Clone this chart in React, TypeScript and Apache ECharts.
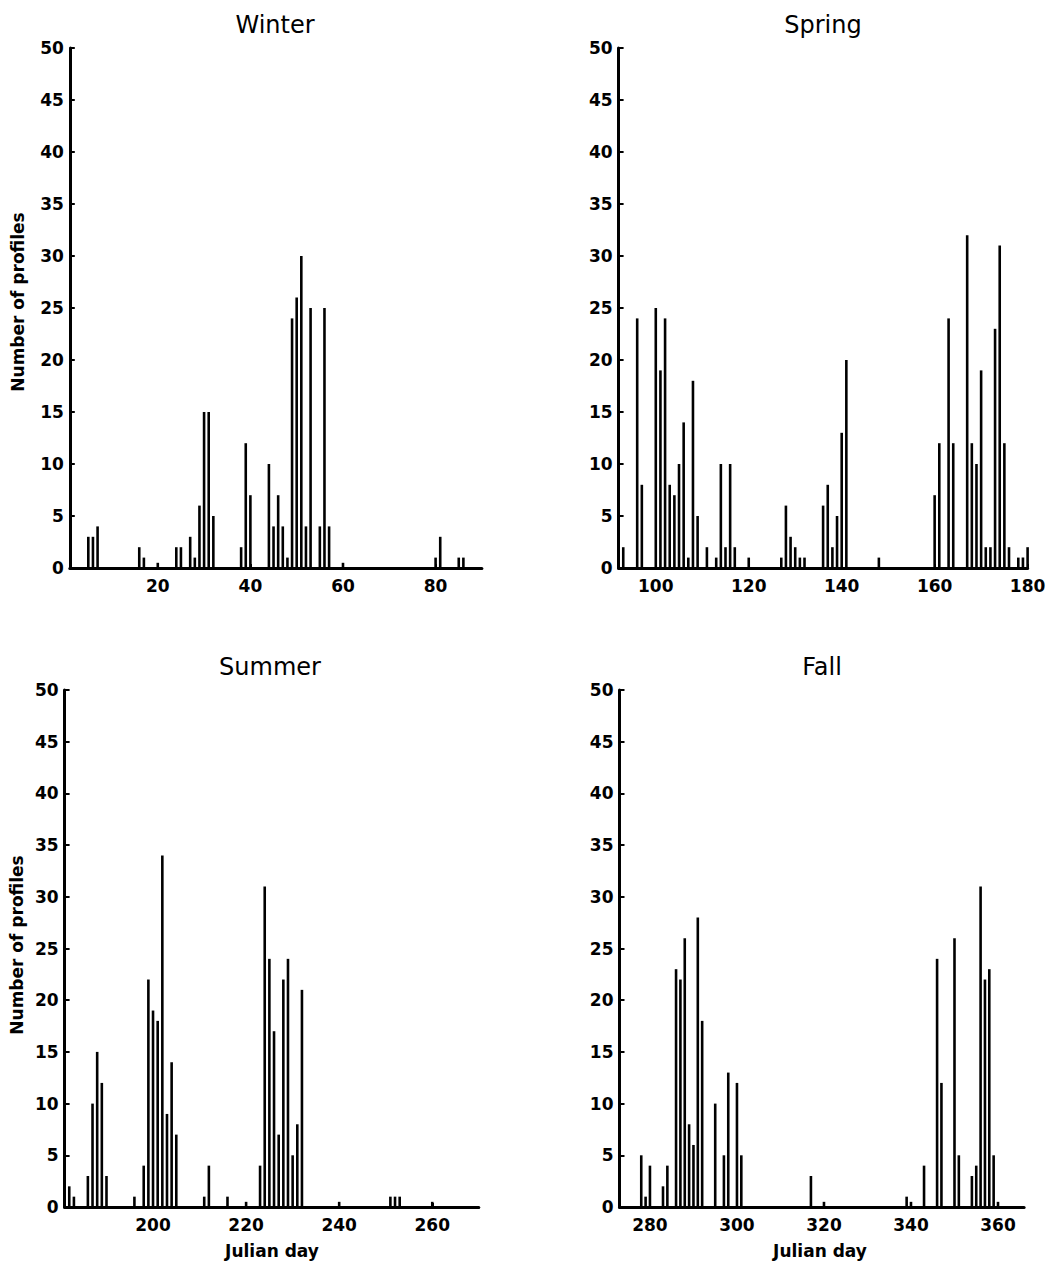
import React, { useEffect, useRef } from "react";
import * as echarts from "echarts";

// ---- data (Julian day, number of profiles) ----
const winterDays = [5, 6, 7, 16, 17, 20, 24, 25, 27, 28, 29, 30, 31, 32, 38, 39, 40, 44, 45, 46, 47, 48, 49, 50, 51, 52, 53, 55, 56, 57, 60, 80, 81, 85, 86];
const winterCounts = [3, 3, 4, 2, 1, 0.5, 2, 2, 3, 1, 6, 15, 15, 5, 2, 12, 7, 10, 4, 7, 4, 1, 24, 26, 30, 4, 25, 4, 25, 4, 0.5, 1, 3, 1, 1];

const springDays = [92, 93, 96, 97, 100, 101, 102, 103, 104, 105, 106, 107, 108, 109, 111, 113, 114, 115, 116, 117, 120, 127, 128, 129, 130, 131, 132, 136, 137, 138, 139, 140, 141, 148, 160, 161, 163, 164, 167, 168, 169, 170, 171, 172, 173, 174, 175, 176, 178, 179, 180];
const springCounts = [1, 2, 24, 8, 25, 19, 24, 8, 7, 10, 14, 1, 18, 5, 2, 1, 10, 2, 10, 2, 1, 1, 6, 3, 2, 1, 1, 6, 8, 2, 5, 13, 20, 1, 7, 12, 24, 12, 32, 12, 10, 19, 2, 2, 23, 31, 12, 2, 1, 1, 2];

const summerDays = [182, 183, 186, 187, 188, 189, 190, 196, 198, 199, 200, 201, 202, 203, 204, 205, 211, 212, 216, 220, 223, 224, 225, 226, 227, 228, 229, 230, 231, 232, 240, 251, 252, 253, 260];
const summerCounts = [2, 1, 3, 10, 15, 12, 3, 1, 4, 22, 19, 18, 34, 9, 14, 7, 1, 4, 1, 0.5, 4, 31, 24, 17, 7, 22, 24, 5, 8, 21, 0.5, 1, 1, 1, 0.5];

const fallDays = [278, 279, 280, 283, 284, 286, 287, 288, 289, 290, 291, 292, 295, 297, 298, 300, 301, 317, 320, 339, 340, 343, 346, 347, 350, 351, 354, 355, 356, 357, 358, 359, 360];
const fallCounts = [5, 1, 4, 2, 4, 23, 22, 26, 8, 6, 28, 18, 10, 5, 13, 12, 5, 3, 0.5, 1, 0.5, 4, 24, 12, 26, 5, 3, 4, 31, 22, 23, 5, 0.5];

const winterTicks = [20, 40, 60, 80];
const springTicks = [100, 120, 140, 160, 180];
const summerTicks = [200, 220, 240, 260];
const fallTicks = [280, 300, 320, 340, 360];

const seasonNames = ["Winter", "Spring", "Summer", "Fall"];
const yAxisTitle = "Number of profiles";
const xAxisTitle = "Julian day";

const FONT = "DejaVu Sans";

export default function App() {
  const ref = useRef<HTMLDivElement>(null);

  useEffect(() => {
    document.body.style.margin = "0";
    if (!ref.current) return;
    const chart = echarts.init(ref.current, undefined, { renderer: "svg" });

    const panels = [
      { days: winterDays, counts: winterCounts, ticks: winterTicks, min: 1, max: 90, grid: { left: 69.8, top: 48, width: 412.1, height: 520 }, tx: 275, ty: 25 },
      { days: springDays, counts: springCounts, ticks: springTicks, min: 92, max: 180, grid: { left: 618.6, top: 48, width: 409, height: 520 }, tx: 823, ty: 25 },
      { days: summerDays, counts: summerCounts, ticks: summerTicks, min: 181, max: 270, grid: { left: 64.6, top: 690, width: 414.2, height: 517 }, tx: 270, ty: 667 },
      { days: fallDays, counts: fallCounts, ticks: fallTicks, min: 273, max: 366, grid: { left: 619.5, top: 690, width: 404.6, height: 517 }, tx: 822, ty: 667 },
    ];

    const axisLine = { show: true, onZero: false, lineStyle: { color: "#000", width: 3 } };
    const labelStyle = { color: "#000", fontFamily: FONT, fontWeight: "bold" as const, fontSize: 17 };

    const option: any = {
      animation: false,
      backgroundColor: "#fff",
      grid: panels.map((p) => ({ ...p.grid, containLabel: false })),
      xAxis: panels.map((p, i) => ({
        gridIndex: i,
        type: "value",
        min: p.min,
        max: p.max,
        axisLine,
        axisTick: { show: true, inside: true, length: 4, customValues: p.ticks, lineStyle: { color: "#000", width: 2 } },
        axisLabel: { ...labelStyle, margin: 9, customValues: p.ticks },
        splitLine: { show: false },
      })),
      yAxis: panels.map((p, i) => ({
        gridIndex: i,
        type: "value",
        min: 0,
        max: 50,
        interval: 5,
        axisLine,
        axisTick: { show: true, inside: true, length: 5, lineStyle: { color: "#000", width: 2 } },
        axisLabel: { ...labelStyle, margin: 6 },
        splitLine: { show: false },
      })),
      series: panels.map((p, i) => ({
        type: "bar",
        xAxisIndex: i,
        yAxisIndex: i,
        data: p.days.map((d, j) => [d, p.counts[j]]),
        barWidth: 2.6,
        clip: false,
        itemStyle: { color: "#000" },
      })),
      graphic: [
        ...panels.map((p, i) => ({
          type: "text",
          x: p.tx,
          y: p.ty,
          style: { text: seasonNames[i], fontFamily: FONT, fontSize: 24, fill: "#000", textAlign: "center", textVerticalAlign: "middle" },
        })),
        {
          type: "text", x: 18, y: 302, rotation: Math.PI / 2,
          style: { text: yAxisTitle, fontFamily: FONT, fontWeight: "bold", fontSize: 17, fill: "#000", textAlign: "center", textVerticalAlign: "middle" },
        },
        {
          type: "text", x: 17, y: 945, rotation: Math.PI / 2,
          style: { text: yAxisTitle, fontFamily: FONT, fontWeight: "bold", fontSize: 17, fill: "#000", textAlign: "center", textVerticalAlign: "middle" },
        },
        {
          type: "text", x: 272, y: 1251,
          style: { text: xAxisTitle, fontFamily: FONT, fontWeight: "bold", fontSize: 17, fill: "#000", textAlign: "center", textVerticalAlign: "middle" },
        },
        {
          type: "text", x: 820, y: 1251,
          style: { text: xAxisTitle, fontFamily: FONT, fontWeight: "bold", fontSize: 17, fill: "#000", textAlign: "center", textVerticalAlign: "middle" },
        },
      ],
    };

    chart.setOption(option);
    return () => chart.dispose();
  }, []);

  return <div ref={ref} style={{ width: 1049, height: 1268 }} />;
}
